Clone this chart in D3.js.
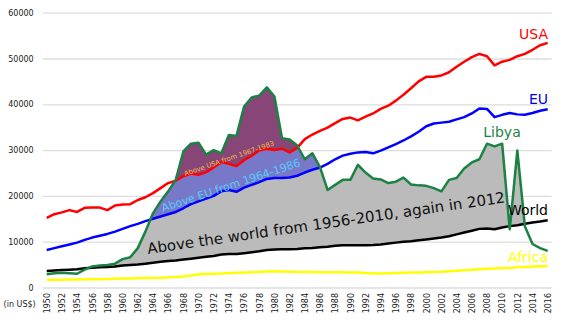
<!DOCTYPE html>
<html><head><meta charset="utf-8">
<script src="https://cdn.jsdelivr.net/npm/d3@7/dist/d3.min.js"></script>
<style>body{margin:0;background:#fff}svg{display:block;font-family:"DejaVu Sans",sans-serif}</style>
</head><body><svg id="c" width="564" height="323"></svg>
<script>
const years = d3.range(1950, 2017);
const usa = [15200,16000,16400,16900,16500,17400,17450,17450,16900,17900,18100,18200,19100,19700,20600,21700,22800,23300,24300,24900,24600,25200,26200,27400,27000,26500,27800,28800,29900,30300,30000,30300,29500,30500,32400,33400,34200,34900,35900,36800,37100,36500,37300,38000,39000,39700,40800,42100,43500,45000,46000,46000,46300,47000,48200,49300,50300,51000,50500,48500,49300,49700,50500,51000,51900,52900,53400];
const eu = [8200,8600,9000,9400,9800,10400,10900,11300,11700,12200,12800,13400,13900,14500,15000,15500,16000,16500,17300,18200,18800,19400,20000,21000,21300,20900,21800,22400,23000,23700,23900,23900,24000,24400,25100,25700,26200,27000,28000,28800,29200,29500,29600,29300,29900,30600,31300,32100,33000,34000,35200,35800,36000,36200,36700,37200,38000,39100,39000,37200,37700,38100,37800,37700,38100,38600,38900];
const libya = [2900,3100,3200,3100,3000,3900,4600,4800,4900,5200,6200,6600,8600,12200,16200,18800,21000,23500,29700,31400,31600,29000,30000,29300,33300,33100,39500,41500,41900,43700,41700,32600,32300,31000,28000,29300,26300,21300,22400,23500,23500,26800,25100,23800,23600,22800,23100,24000,22500,22300,22200,21700,21000,23500,23900,26000,27300,28000,31400,30800,31400,12700,29900,13300,9500,8600,8000];
const world = [3600,3700,3800,3900,4000,4200,4300,4400,4500,4600,4800,4900,5000,5200,5400,5600,5800,5900,6100,6300,6500,6700,6900,7200,7300,7300,7500,7700,7900,8200,8300,8350,8350,8400,8550,8650,8800,8900,9100,9200,9200,9250,9250,9300,9400,9600,9800,10000,10100,10300,10500,10700,10900,11200,11600,12000,12400,12800,12900,12700,13100,13400,13600,13900,14200,14400,14700];
const africa = [1650,1680,1700,1720,1750,1780,1800,1820,1850,1900,1950,1970,2000,2050,2100,2150,2250,2300,2400,2600,2900,2950,3000,3050,3150,3200,3300,3350,3400,3500,3550,3500,3450,3400,3400,3400,3350,3350,3350,3350,3300,3250,3150,3100,3050,3100,3150,3200,3250,3300,3350,3400,3450,3550,3650,3750,3850,4000,4100,4150,4250,4250,4450,4500,4600,4650,4700];
const yTicks = [0,10000,20000,30000,40000,50000,60000];
const xTicks = d3.range(1950, 2017, 2);

const svg = d3.select("#c");
const x = d3.scaleLinear().domain([1950,2016]).range([46.7,547.7]);
const y = d3.scaleLinear().domain([0,60000]).range([287.5,12.7]);
const gx0 = 42.7, gx1 = 551.7;

// y axis with gridlines
const ya = svg.append("g").attr("transform",`translate(${gx0},0)`)
  .call(d3.axisLeft(y).tickValues(yTicks).tickSize(-(gx1-gx0)).tickPadding(9).tickFormat(d3.format("d")));
ya.select(".domain").remove();
ya.selectAll(".tick line").attr("stroke","#dddddd").attr("stroke-width",1.3);
ya.selectAll(".tick text").attr("font-size","8px").attr("fill","#222").attr("font-family","DejaVu Sans");

// x axis
const xa = svg.append("g").attr("transform","translate(0,293)")
  .call(d3.axisBottom(x).tickValues(xTicks).tickSize(0).tickFormat(d3.format("d")));
xa.select(".domain").remove();
xa.selectAll(".tick text").attr("transform","rotate(-90)").attr("x",0).attr("y",0)
  .attr("dy","0.35em").attr("text-anchor","end").attr("font-size","8px").attr("fill","#222").attr("font-family","DejaVu Sans");

svg.append("text").attr("x",35.7).attr("y",307).attr("text-anchor","end")
  .attr("font-size","8px").attr("fill","#222").text("(in US$)");

const data = years.map((yr,i)=>({yr,usa:usa[i],eu:eu[i],libya:libya[i],world:world[i],africa:africa[i]}));
const defs = svg.append("defs");
function clipAbove(id, key){
  defs.append("clipPath").attr("id",id).append("path")
    .attr("d", d3.area().x(d=>x(d.yr)).y0(d=>y(d[key])).y1(0)(data));
}
clipAbove("cw","world"); clipAbove("ce","eu"); clipAbove("cu","usa");
function fillBetween(key, clip, color){
  svg.append("path").attr("clip-path",`url(#${clip})`)
    .attr("d", d3.area().x(d=>x(d.yr)).y0(d=>y(d[key])).y1(d=>y(d.libya))(data))
    .attr("fill", color);
}
fillBetween("world","cw","#bbbbbb");
fillBetween("eu","ce","#7878c8");
fillBetween("usa","cu","#874677");

function line(key,color,w){
  svg.append("path").attr("d", d3.line().x(d=>x(d.yr)).y(d=>y(d[key]))(data))
    .attr("fill","none").attr("stroke",color).attr("stroke-width",w).attr("stroke-linejoin","round");
}
line("africa","#ffff00",2.5);
line("world","#000000",2.5);
line("eu","#0000ff",2.5);
line("usa","#ff0000",2.5);
line("libya","#1b8244",2.5);

// annotations
svg.append("text").attr("transform","translate(148,254) rotate(-8.2)")
  .attr("font-size","15px").attr("fill","#111").text("Above the world from 1956-2010, again in 2012");
svg.append("text").attr("transform","translate(163,212) rotate(-18.5)")
  .attr("font-size","11px").attr("fill","#55ccff").text("Above EU from 1964-1986");
svg.append("text").attr("transform","translate(185,176) rotate(-19)")
  .attr("font-size","6.8px").attr("fill","#ffb347").text("Above USA from 1967-1983");

// series labels
const lab = (t,xx,yy,c,anchor)=>svg.append("text").attr("x",xx).attr("y",yy).attr("text-anchor",anchor||"end")
  .attr("font-size","14px").attr("fill",c).text(t);
lab("USA",548,39,"#ff0000");
lab("EU",548,104,"#0000dd");
lab("Libya",502,137,"#1b8244","middle");
lab("World",548,215,"#000000");
lab("Africa",548,262,"#ffff00");
</script></body></html>
